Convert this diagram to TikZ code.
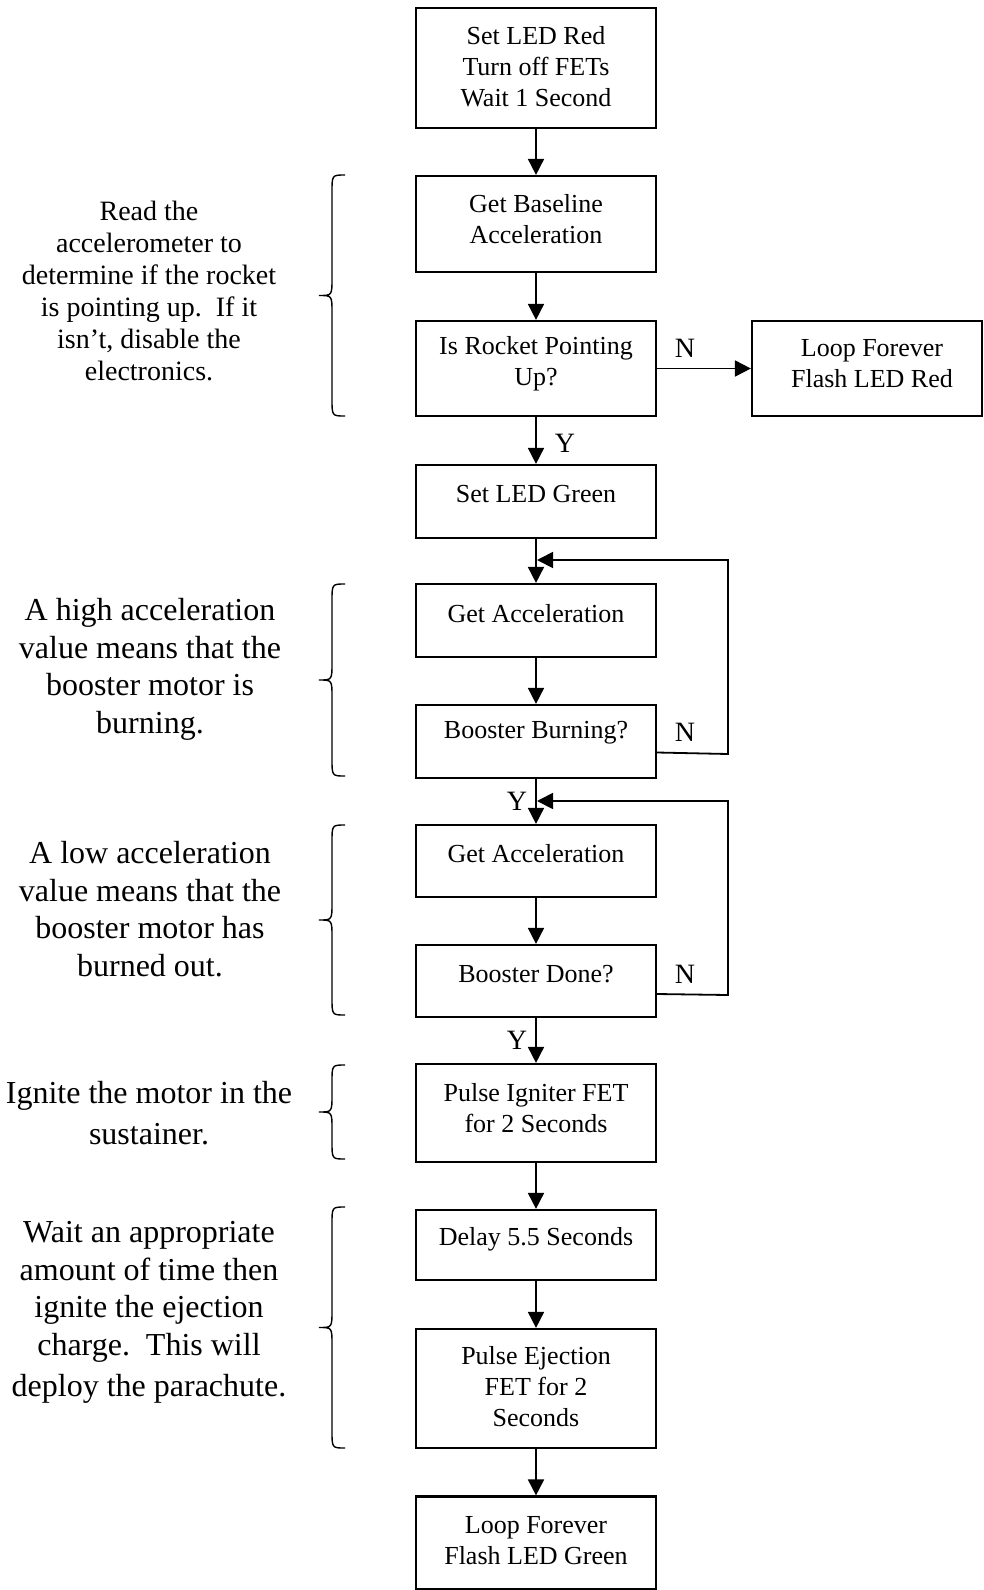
\documentclass[tikz,border=0pt]{standalone}
\usepackage{fontspec}
\setmainfont{Liberation Serif}
\usetikzlibrary{arrows.meta,calc}
\tikzset{
  box/.style={draw, line width=2.2pt, minimum width=240pt, inner sep=0pt},
  boxtxt/.style={align=center, inner sep=0pt, font=\fontsize{26}{31}\selectfont},
  side/.style={align=center, inner sep=0pt, font=\fontsize{32}{37.5}\selectfont},
  yn/.style={inner sep=0pt, font=\fontsize{28}{32}\selectfont},
  arr/.style={line width=1.8pt, -{Triangle[width=16pt,length=16pt]}},
  curly/.style={line width=1.4pt},
}
\begin{document}
\begin{tikzpicture}[x=1pt,y=-1pt]
\useasboundingbox (0,0) rectangle (983,1590);
% boxes
\node[box, minimum height=120pt] (b1) at (536,68) {};
\node[box, minimum height=96pt] (b2) at (536,224) {};
\node[box, minimum height=95pt] (b3) at (536,368.5) {};
\node[box, minimum width=230pt, minimum height=95pt] (r) at (867,368.5) {};
\node[box, minimum height=73pt] (b4) at (536,501.5) {};
\node[box, minimum height=73pt] (b5) at (536,620.5) {};
\node[box, minimum height=73pt] (b6) at (536,741.5) {};
\node[box, minimum height=72pt] (b7) at (536,861) {};
\node[box, minimum height=72pt] (b8) at (536,981) {};
\node[box, minimum height=98pt] (b9) at (536,1113) {};
\node[box, minimum height=70pt] (b10) at (536,1245) {};
\node[box, minimum height=119pt] (b11) at (536,1388.5) {};
\node[box, minimum height=93pt] (b12) at (536,1543) {};
% box texts
\node[boxtxt] (t1) at (536,66.5) {Set LED Red\\Turn off FETs\\Wait 1 Second};
\node[boxtxt] (t2) at (536,219.5) {Get Baseline\\Acceleration};
\node[boxtxt] (t3) at (536,363.5) {Is Rocket Pointing\\Up?};
\node[boxtxt] (tr) at (872,363.5) {Loop Forever\\Flash LED Red};
\node[boxtxt] (t4) at (536,494) {Set LED Green};
\node[boxtxt] (t5) at (536,614) {Get Acceleration};
\node[boxtxt] (t6) at (536,733) {Booster Burning?};
\node[boxtxt] (t7) at (536,854) {Get Acceleration};
\node[boxtxt] (t8) at (536,974) {Booster Done?};
\node[boxtxt] (t9) at (536,1108.5) {Pulse Igniter FET\\for 2 Seconds};
\node[boxtxt] (t10) at (536,1239) {Delay 5.5 Seconds};
\node[boxtxt] (t11) at (536,1387) {Pulse Ejection\\FET for 2\\Seconds};
\node[boxtxt] (t12) at (536,1540.5) {Loop Forever\\Flash LED Green};
% connectors
\draw[arr] (b1) -- (b2);
\draw[arr] (b2) -- (b3);
\draw[arr] (b3) -- (r);
\draw[arr] (b3) -- (b4);
\draw[arr] (b4) -- (b5);
\draw[arr] (b5) -- (b6);
\draw[arr] (b6) -- (b7);
\draw[arr] (b7) -- (b8);
\draw[arr] (b8) -- (b9);
\draw[arr] (b9) -- (b10);
\draw[arr] (b10) -- (b11);
\draw[arr] (b11) -- (b12);
% loops
\coordinate (c1) at (537,560);
\coordinate (k1) at (728,754);
\coordinate (c2) at (537,801);
\coordinate (k2) at (728,995);
\draw[arr] ([yshift=-11pt]b6.east) -- (k1) -- (k1 |- c1) -- (c1);
\draw[arr] ([yshift=-13pt]b8.east) -- (k2) -- (k2 |- c2) -- (c2);
% labels
\node[yn] (n1) at (685,348) {N};
\node[yn] (n2) at (685,732) {N};
\node[yn] (n3) at (685,974) {N};
\node[yn] (y1) at (565,443) {Y};
\node[yn] (y2) at (517,801) {Y};
\node[yn] (y3) at (517,1040) {Y};
% side texts
\node[side, font=\fontsize{28}{32}\selectfont] (s1) at (149,291) {Read the\\accelerometer to\\determine if the rocket\\is pointing up.\ \ If it\\isn't, disable the\\electronics.};
\node[side] (s2) at (150,669.5) {A high acceleration\\value means that the\\booster motor is\\burning.};
\node[side] (s3) at (150,909) {A low acceleration\\value means that the\\booster motor has\\burned out.};
\node[side, font=\fontsize{32}{41}\selectfont] (s4) at (149,1113.5) {Ignite the motor in the\\sustainer.};
\node[side] (s5) at (149,1312.5) {Wait an appropriate\\amount of time then\\ignite the ejection\\charge.\ \ This will\\[3.5pt]deploy the parachute.};
% braces
\draw[curly] (345,175) .. controls (332,175) .. (332,192) -- (332,278.5) .. controls (332,295.5) .. (319,295.5) .. controls (332,295.5) .. (332,312.5) -- (332,399) .. controls (332,416) .. (345,416);
\draw[curly] (345,584) .. controls (332,584) .. (332,601) -- (332,663) .. controls (332,680) .. (319,680) .. controls (332,680) .. (332,697) -- (332,759) .. controls (332,776) .. (345,776);
\draw[curly] (345,825) .. controls (332,825) .. (332,842) -- (332,903) .. controls (332,920) .. (319,920) .. controls (332,920) .. (332,937) -- (332,998) .. controls (332,1015) .. (345,1015);
\draw[curly] (345,1065) .. controls (332,1065) .. (332,1082) -- (332,1095) .. controls (332,1112) .. (319,1112) .. controls (332,1112) .. (332,1129) -- (332,1142) .. controls (332,1159) .. (345,1159);
\draw[curly] (345,1207) .. controls (332,1207) .. (332,1224) -- (332,1310.5) .. controls (332,1327.5) .. (319,1327.5) .. controls (332,1327.5) .. (332,1344.5) -- (332,1431) .. controls (332,1448) .. (345,1448);
\end{tikzpicture}
\end{document}
